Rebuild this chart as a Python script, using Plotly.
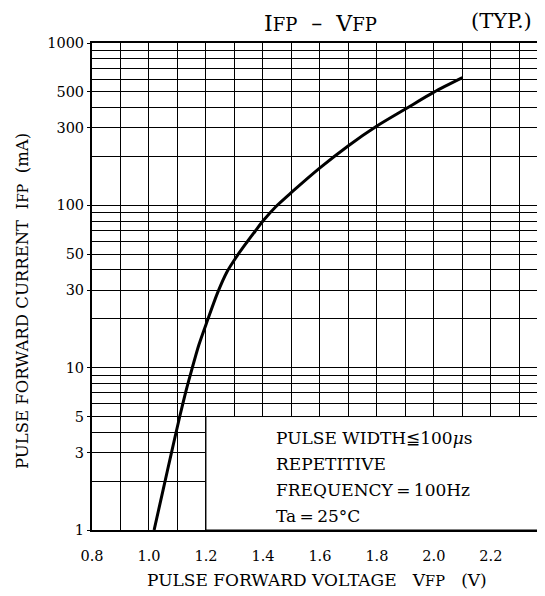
import plotly.graph_objects as go

# Curve (V in volts, I in mA)
voltage = [1.018, 1.050, 1.079, 1.108, 1.130, 1.150, 1.175, 1.205, 1.241, 1.274,
           1.310, 1.343, 1.372, 1.400, 1.445, 1.500, 1.600, 1.700, 1.800, 1.900,
           2.000, 2.100]
current = [1, 1.78, 3, 5, 7.2, 9.7, 13.8, 19.5, 29, 39,
           49, 59, 69, 80, 98, 120, 170, 233, 308, 392,
           498, 612]

x_tick_vals = [0.8, 1.0, 1.2, 1.4, 1.6, 1.8, 2.0, 2.2]
x_tick_text = ["0.8", "1.0", "1.2", "1.4", "1.6", "1.8", "2.0", "2.2"]

y_grid_vals = [1, 2, 3, 4, 5, 6, 7, 8, 9,
               10, 20, 30, 40, 50, 60, 70, 80, 90,
               100, 200, 300, 400, 500, 600, 700, 800, 900, 1000]
y_tick_vals = [1, 3, 5, 10, 30, 50, 100, 300, 500, 1000]
y_tick_text = ["1", "3", "5", "10", "30", "50", "100", "300", "500", "1000"]

note_lines = ["PULSE WIDTH\u2266100<i>\u03bc</i>s",
              "REPETITIVE",
              "FREQUENCY\u2009=\u2009100Hz",
              "Ta\u2009=\u200925\u00b0C"]

FONT = "DejaVu Serif"

# page is rendered with an 8px body offset: plot area in page pixels
PX0, PX1, PY0, PY1 = 92, 545, 43, 530


def px(x):
    return (x - PX0) / (PX1 - PX0)


def py(y):
    return 1 - (y - PY0) / (PY1 - PY0)


def small(s, size):
    return '<span style="font-size:%gpx">%s</span>' % (size, s)


fig = go.Figure()
fig.add_trace(go.Scatter(
    x=voltage, y=current, mode="lines",
    line=dict(color="black", width=3, shape="spline", smoothing=0.8),
    showlegend=False, hoverinfo="skip"))

# white panel for the conditions box (covers grid, not the curve)
fig.add_shape(type="rect", xref="x", yref="y", x0=1.2, x1=2.39, y0=1, y1=5,
              fillcolor="white", line=dict(color="black", width=1), layer="between")

fig.update_layout(
    width=537, height=588,
    margin=dict(l=PX0 - 8, r=0, t=PY0 - 8, b=588 - (PY1 - 8)),
    paper_bgcolor="white", plot_bgcolor="white",
    font=dict(family=FONT, color="black", size=14),
    xaxis=dict(
        range=[0.8, 2.39], tickvals=x_tick_vals, ticktext=x_tick_text,
        showgrid=True, gridcolor="black", gridwidth=1,
        minor=dict(dtick=0.1, tick0=0.8, showgrid=True, gridcolor="black", gridwidth=1),
        showline=True, linecolor="black", linewidth=2, mirror=True,
        ticks="", ticklabelstandoff=12, zeroline=False,
        tickfont=dict(family=FONT, size=14.5)),
    yaxis=dict(
        type="log", range=[0, 3], tickvals=y_tick_vals, ticktext=y_tick_text,
        showgrid=True, gridcolor="black", gridwidth=1,
        minor=dict(tickmode="array", tickvals=y_grid_vals, showgrid=True,
                   gridcolor="black", gridwidth=1, ticks=""),
        showline=True, linecolor="black", linewidth=2,
        ticks="outside", ticklen=3, tickcolor="black", zeroline=False,
        tickfont=dict(family=FONT, size=14.5)),
)

fig.add_annotation(text="I" + small("FP", 18) + "  \u2013  V" + small("FP", 18),
                   xref="paper", yref="paper",
                   x=px(320), y=py(23), showarrow=False, xanchor="center", yanchor="middle",
                   font=dict(family=FONT, size=22))
fig.add_annotation(text="(TYP.)", xref="paper", yref="paper",
                   x=px(501), y=py(21), showarrow=False, xanchor="center", yanchor="middle",
                   font=dict(family=FONT, size=21))

fig.add_annotation(text="PULSE FORWARD VOLTAGE   V" + small("FP", 14.5) + "   (V)",
                   xref="paper", yref="paper", x=px(317), y=py(580),
                   showarrow=False, xanchor="center", yanchor="middle",
                   font=dict(family=FONT, size=17))
fig.add_annotation(text="PULSE FORWARD CURRENT  I" + small("FP", 14) + "  (mA)",
                   xref="paper", yref="paper", x=px(22), y=py(301),
                   showarrow=False, xanchor="center", yanchor="middle", textangle=-90,
                   font=dict(family=FONT, size=16.5))

for i, line in enumerate(note_lines):
    fig.add_annotation(text=line, xref="paper", yref="paper",
                       x=px(274), y=py(438 + 26 * i),
                       showarrow=False, xanchor="left", yanchor="middle",
                       font=dict(family=FONT, size=17))

fig.write_html("out.html")
